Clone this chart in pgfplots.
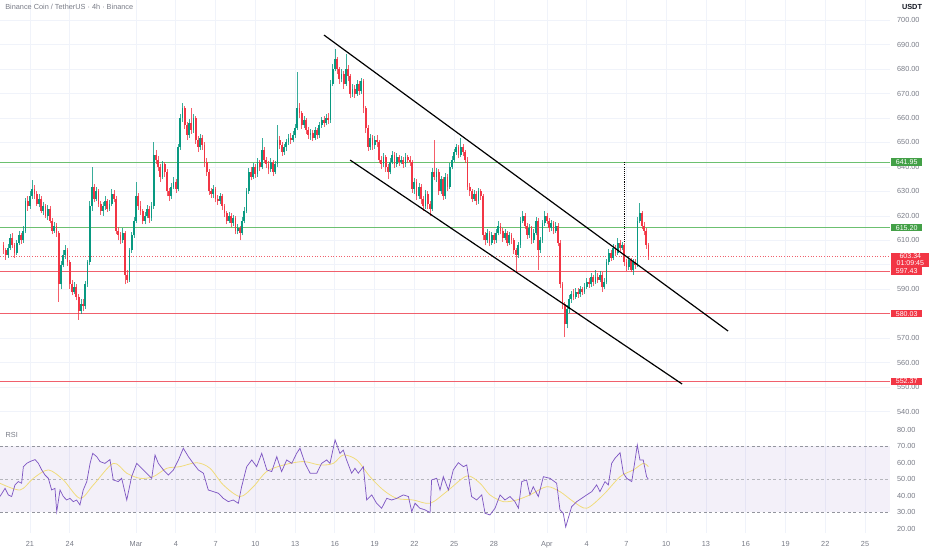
\documentclass[border=0pt]{standalone}
\usepackage{pgfplots}
\pgfplotsset{compat=1.18}
\usepackage{pgfplotstable}
\usepackage{fontspec}
\setmainfont{Liberation Sans}
\definecolor{tvgreen}{HTML}{089981}
\definecolor{tvred}{HTML}{F23645}
\definecolor{lvlgreen}{HTML}{6CC070}
\definecolor{lvlred}{HTML}{F0606C}
\definecolor{boxgreen}{HTML}{43A047}
\definecolor{gridc}{HTML}{F0F3FA}
\definecolor{txt}{HTML}{787B86}
\definecolor{dark}{HTML}{131722}
\definecolor{rsiline}{HTML}{7E57C2}
\definecolor{rsima}{HTML}{F0DC7C}

\pgfplotstableread{
i o h l c
0 608 609.5 604.5 606
1 606 607 602 604
2 604 608.5 603 607
3 607 612.5 606 611
4 611 613 607 608
5 608 609 603 605
6 605 610 604 609
7 609 614 608 612
8 612 613 608.5 610
9 610 616 609 614
10 614 627.5 613 626
11 626 628 622 624
12 624 630 623 628
13 628 634.6 627 631
14 631 632.5 627 629
15 629 630 624 625
16 625 629 623.5 627
17 627 628 621 622
18 622 625.5 620.5 624
19 624 625 619 620
20 620 624.5 618.5 623
21 623 624 617 618
22 618 619 612.5 614
23 614 617.5 613 616
24 616 617 611.5 613
25 613 614 585 592
26 592 601.5 590 600
27 600 606 599 604
28 604 608 602.5 606
29 606 607 599.5 601
30 601 602 590 592
31 592 594 587.5 589
32 589 593 588 591
33 591 592 585.5 587
34 587 588 577.5 581
35 581 586 580 584
36 584 586 581 583
37 583 593.5 582 592
38 592 602 591 601
39 601 626 600 624
40 624 640 622 632
41 632 633 625.5 627
42 627 632 626 630
43 630 631 623.5 625
44 625 626 620.5 622
45 622 625.5 620 624
46 624 628 622.5 626
47 626 627 621.5 623
48 623 626.5 622 625
49 625 631 624 629
50 629 630.5 625.5 627
51 627 628 612.5 614
52 614 615.5 610 612
53 612 613.5 608.5 610
54 610 615 609 613
55 613 614 592 596
56 596 598 592.5 594
57 594 607 593 606
58 606 613.5 605 612
59 612 619.5 611 618
60 618 634 617 628
61 628 629.5 622.5 624
62 624 626 620.5 622
63 622 623 616.5 618
64 618 621.5 616.5 620
65 620 624.5 619 623
66 623 624 617 619
67 619 625.5 618 624
68 624 650 623 645
69 645 647 641 643
70 643 644.5 638.5 640
71 640 641 634 636
72 636 642.5 635 641
73 641 642 636 638
74 638 639 628 630
75 630 631.5 626 628
76 628 633.5 627 632
77 632 636 631 634
78 634 635 629.5 631
79 631 649.5 630 648
80 648 661.5 647 660
81 660 666 658.5 664
82 664 665 655.5 657
83 657 658.5 651 653
84 653 659.5 652 658
85 658 664 653.5 655
86 655 661.5 654 660
87 660 661 649.5 651
88 651 652.5 646 648
89 648 653.5 647 652
90 652 653 647 649
91 649 650 640 642
92 642 643.5 636.5 638
93 638 639 628.5 630
94 630 631.5 627.5 629
95 629 632.5 627.5 631
96 631 632 625.5 627
97 627 628.5 624.5 626
98 626 629.5 625 628
99 628 629 622.5 624
100 624 625 619.5 621
101 621 622 616.5 618
102 618 621.5 617 620
103 620 621 615.5 617
104 617 620.5 616 619
105 619 620 612.5 614
106 614 616.5 612.5 615
107 615 616 610 613
108 613 619.5 612 618
109 618 623.5 617 622
110 622 631.5 621 630
111 630 639.5 629 638
112 638 640 634.5 636
113 636 641.5 635 640
114 640 641 635.5 637
115 637 643.5 636 642
116 642 643 638.5 640
117 640 652 639 647
118 647 648 641.5 643
119 643 644 639.5 641
120 641 642.5 637 639
121 639 643.5 638 642
122 642 643 636.5 638
123 638 642.5 637 641
124 641 657 640 651
125 651 652.5 647.5 649
126 649 650 644.5 646
127 646 649.5 645 648
128 648 651.5 646.5 650
129 650 653.5 649 652
130 652 654 649.5 651
131 651 654.5 650 653
132 653 657.5 652 656
133 656 678.8 655 664
134 664 666 660 662
135 662 663 655.5 657
136 657 661 656 659
137 659 660 653.5 655
138 655 656.5 651.5 653
139 653 655.5 651 654
140 654 655 650.5 652
141 652 656.5 651 655
142 655 656 651.5 653
143 653 658.5 652 657
144 657 660.5 656 659
145 659 661 656.5 658
146 658 661.5 657 660
147 660 662 657.5 659
148 659 675.5 658 674
149 674 682 673 680
150 680 688 679 684
151 684 685 678 680
152 680 681 674 676
153 676 680 674.5 678
154 678 679 672 674
155 674 686 673 680
156 680 681.5 675 677
157 677 678 668 670
158 670 674 668.5 672
159 672 673.5 668 670
160 670 675.5 669 674
161 674 675 669.5 671
162 671 676.5 670 675
163 675 676 662 664
164 664 665 654 656
165 656 657 646.5 648
166 648 653.5 647 652
167 652 653 647 649
168 649 652.5 647.5 651
169 651 653 648 650
170 650 651 641.5 643
171 643 644.5 639 641
172 641 645.5 640 644
173 644 645 638 640
174 640 641 635 638
175 638 643.5 637 642
176 642 646.5 641 645
177 645 646 639.5 641
178 641 645.5 640 644
179 644 645 640.5 642
180 642 644.5 641 643
181 643 644 639.5 641
182 641 645.5 640 644
183 644 645 641.5 643
184 643 644.5 640.5 642
185 642 643 629.5 631
186 631 635.5 629 634
187 634 635 626.5 628
188 628 633.5 627 632
189 632 633 625 627
190 627 628 622 624
191 624 630.5 623 629
192 629 630 623 625
193 625 626 620 623
194 623 639.5 622 638
195 638 651 634.5 636
196 636 639.5 634 638
197 638 639 628.5 630
198 630 636.5 629 635
199 635 636 626.5 628
200 628 637.5 627 636
201 636 637 630 632
202 632 641.5 631 640
203 640 644.5 639 643
204 643 647.5 642 646
205 646 649.5 645 648
206 648 649 643.5 645
207 645 651.8 644 648
208 648 649.5 644.5 646
209 646 647 641.5 643
210 643 644 630.5 632
211 632 633.5 628 630
212 630 631 625.5 627
213 627 630.5 626 629
214 629 630 624.5 626
215 626 631.5 625 630
216 630 631 626.5 628
217 628 629 610 612
218 612 613.5 608 610
219 610 614.5 609 613
220 613 614 607.5 609
221 609 613.5 608 612
222 612 613 608.5 610
223 610 614.5 609 613
224 613 618 612 616
225 616 617 612.5 614
226 614 615 609.5 611
227 611 614.5 610 613
228 613 614 607.5 609
229 609 613.5 608 612
230 612 613 608.5 610
231 610 611 604.5 606
232 606 607 597 604
233 604 609.5 603 608
234 608 619.5 607 618
235 618 622 617 620
236 620 621 614.5 616
237 616 617 610.5 612
238 612 616.5 611 615
239 615 616 608.5 610
240 610 614.5 609 613
241 613 619.5 612 618
242 618 619 598 606
243 606 611.5 605 610
244 610 618.5 609 617
245 617 622 616 620
246 620 621 616.5 618
247 618 619 613.5 615
248 615 618.5 614 617
249 617 618 612.5 614
250 614 617.5 613 616
251 616 617 607.5 609
252 609 610 590.5 592
253 592 593 582 584
254 584 585 570.5 576
255 576 583.5 574 582
256 582 587.5 580.5 586
257 586 589.5 584.5 588
258 588 590 585.5 587
259 587 590.5 586 589
260 589 590.5 586.5 588
261 588 591.5 587 590
262 590 591 587.5 589
263 589 592.5 588 591
264 591 594.5 590 593
265 593 594.5 590.5 592
266 592 596.5 591 595
267 595 596 591.5 593
268 593 598 592 595
269 595 596.5 592.5 594
270 594 597.5 593 596
271 596 597 589 591
272 591 594.5 590 593
273 593 602.5 592 601
274 601 606.5 600 605
275 605 606 601.5 603
276 603 608.5 602 607
277 607 608 603.5 605
278 605 611 604 609
279 609 610 605.5 607
280 607 609.5 606 608
281 608 609 599.5 601
282 601 602.5 597.5 599
283 599 603.5 598 602
284 602 603 597 598
285 598 602.5 596 601
286 601 602.5 598.5 600
287 600 619.5 599 618
288 618 625.3 617 621
289 621 622 614.5 616
290 616 617.5 612 614
291 614 615 606.5 608
292 608 609 602 603.34
}\candles

\tikzset{
  lbl/.style={anchor=west, inner sep=0pt, minimum width=23pt, minimum height=5.6pt,
    font=\fontsize{5.3}{5.6}\selectfont, text=white, align=center, xshift=0.8pt},
}

\begin{document}
\begin{tikzpicture}
\useasboundingbox (0pt,0pt) rectangle (699pt,412.5pt);
\begin{axis}[
  at={(0pt,96pt)}, anchor=south west, scale only axis,
  width=667.5pt, height=316.5pt,
  xmin=-1.58, xmax=401.3, ymin=535.8, ymax=708.2,
  axis line style={draw=none},
  xtick={12,30,60,78,96,114,132,150,168,186,204,222,246,264,282,300,318,336,354,372,390},
  xticklabels={},
  ytick={540,550,...,700},
  yticklabel pos=right,
  /pgf/number format/assume math mode=true,
  yticklabel style={font=\fontsize{5.5}{6}\selectfont, text=txt, anchor=west, xshift=1.8pt,
    /pgf/number format/fixed, /pgf/number format/fixed zerofill, /pgf/number format/precision=2},
  major tick length=0pt,
  grid=major, major grid style={gridc, line width=0.55pt},
  clip=false,
]
% levels
\addplot [lvlgreen, line width=0.65pt] coordinates {(-1.58,641.95) (401.3,641.95)};
\addplot [lvlgreen, line width=0.65pt] coordinates {(-1.58,615.20) (401.3,615.20)};
\addplot [lvlred, line width=0.65pt] coordinates {(-1.58,597.43) (401.3,597.43)};
\addplot [lvlred, line width=0.65pt] coordinates {(-1.58,580.03) (401.3,580.03)};
\addplot [lvlred, line width=0.65pt] coordinates {(-1.58,552.37) (401.3,552.37)};
\addplot [lvlred, line width=0.45pt, dash pattern=on 0.8pt off 1.2pt] coordinates {(-1.58,603.34) (401.3,603.34)};
% wicks
\addplot [draw=none, mark=none, restrict expr to domain={\thisrow{c}-\thisrow{o}}{0:1000},
  error bars/.cd, y dir=plus, y explicit, error mark=none,
  error bar style={draw=tvgreen, draw opacity=0.8, line width=0.45pt}]
  table [x=i, y=l, y error plus expr={\thisrow{h}-\thisrow{l}}] {\candles};
\addplot [draw=none, mark=none, restrict expr to domain={\thisrow{c}-\thisrow{o}}{-1000:-0.0001},
  error bars/.cd, y dir=plus, y explicit, error mark=none,
  error bar style={draw=tvred, draw opacity=0.8, line width=0.45pt}]
  table [x=i, y=l, y error plus expr={\thisrow{h}-\thisrow{l}}] {\candles};
% bodies
\addplot [draw=none, mark=none, restrict expr to domain={\thisrow{c}-\thisrow{o}}{0:1000},
  error bars/.cd, y dir=plus, y explicit, error mark=none,
  error bar style={draw=tvgreen, line width=1.35pt}]
  table [x=i, y=o, y error plus expr={\thisrow{c}-\thisrow{o}}] {\candles};
\addplot [draw=none, mark=none, restrict expr to domain={\thisrow{c}-\thisrow{o}}{-1000:-0.0001},
  error bars/.cd, y dir=minus, y explicit, error mark=none,
  error bar style={draw=tvred, line width=1.35pt}]
  table [x=i, y=o, y error minus expr={\thisrow{o}-\thisrow{c}}] {\candles};
% channel
\addplot [black, line width=0.9pt] coordinates {(145.1,693.87) (328.0,572.96)};
\addplot [black, line width=0.9pt] coordinates {(156.9,642.81) (307.2,551.31)};
\addplot [black, line width=0.6pt, dash pattern=on 0.8pt off 0.8pt] coordinates {(281,641.9) (281,609.5)};
\coordinate (L1) at (axis cs:401.3,641.95);
\coordinate (L2) at (axis cs:401.3,615.20);
\coordinate (L3) at (axis cs:401.3,603.34);
\coordinate (L4) at (axis cs:401.3,597.43);
\coordinate (L5) at (axis cs:401.3,580.03);
\coordinate (L6) at (axis cs:401.3,552.37);
\end{axis}

\begin{axis}[
  at={(0pt,12.75pt)}, anchor=south west, scale only axis,
  width=667.5pt, height=83.25pt,
  xmin=-1.58, xmax=401.3, ymin=17.3, ymax=84.9,
  axis line style={draw=none},
  xtick={12,30,60,78,96,114,132,150,168,186,204,222,246,264,282,300,318,336,354,372,390},
  xticklabels={21,24,Mar,4,7,10,13,16,19,22,25,28,Apr,4,7,10,13,16,19,22,25},
  xticklabel style={font=\fontsize{5.5}{6}\selectfont, text=txt, yshift=-2.5pt},
  ytick={20,30,...,80},
  yticklabel pos=right,
  /pgf/number format/assume math mode=true,
  yticklabel style={font=\fontsize{5.5}{6}\selectfont, text=txt, anchor=west, xshift=1.8pt,
    /pgf/number format/fixed, /pgf/number format/fixed zerofill, /pgf/number format/precision=2},
  major tick length=0pt,
  xmajorgrids, major grid style={gridc, line width=0.55pt},
]
\addplot [draw=none, fill=rsiline, fill opacity=0.09] coordinates {(-1.58,30) (401.3,30) (401.3,70) (-1.58,70)} -- cycle;
\addplot [txt!80, line width=0.45pt, dash pattern=on 2pt off 2pt] coordinates {(-1.58,70) (401.3,70)};
\addplot [txt!55, line width=0.45pt, dash pattern=on 2pt off 2pt] coordinates {(-1.58,50) (401.3,50)};
\addplot [txt!80, line width=0.45pt, dash pattern=on 2pt off 2pt] coordinates {(-1.58,30) (401.3,30)};
\addplot [rsima, line width=0.6pt, smooth] coordinates {
(-1.6,47.6) (7.5,43.5) (13.5,50.6) (20.3,55.7) (27.1,49.6) (34.6,38.4) (40.7,46.6) (49.7,59.7) (55.8,53.7) (61.8,50.6) (67.8,51.6) (73.9,56.7) (79.9,57.7) (87.5,60.1) (93.5,56.7) (99.5,46.6) (107.1,39.5) (113.1,45.5) (119.1,54.7) (126.7,58.7) (135.7,60.8) (143.3,58.7) (149.3,59.7) (153.8,64.8) (159.9,61.8) (165.9,51.6) (171.9,43.5) (178,38.4) (185.5,37.4) (193.1,35.4) (200.6,42.5) (209.7,52) (215.7,47.6) (220.2,40.5) (226.3,36.4) (232.3,37.4) (238.3,40.5) (245.9,45.5) (251.9,42.5) (258,36.4) (264,32.4) (271.5,40.5) (279.1,51.6) (285.1,55.7) (289.6,59.7) (291.9,57.7)};
\addplot [rsiline, line width=0.55pt] coordinates {
(-1.6,39.5) (0.7,44.5) (2.2,40.5) (3.7,39.5) (5.2,46.6) (6.7,48.6) (8.2,47.6) (9,57.7) (10.5,59.7) (12,60.8) (14.3,62) (15.8,59.7) (17.3,55.7) (18.8,52.6) (20.3,50.6) (21.8,43.5) (23.3,44.5) (24.1,30.3) (25.6,43.5) (27.1,39.5) (28.6,37.4) (30.1,38.4) (31.6,36.4) (33.1,37.4) (34.6,34.4) (36.1,43.5) (37.7,48.6) (39.2,59.7) (40.4,65.8) (42.2,63.8) (43.7,60.8) (45.9,59.7) (48.2,62) (49.7,49.6) (52,48.6) (53.5,50.6) (55.8,37.4) (58,51.6) (60.3,59.7) (62.6,56.7) (64.8,53.7) (67.1,50.6) (68.6,64.8) (70.1,59.7) (72.4,55.7) (74.6,52.6) (76.9,55.7) (79.2,61.8) (81.4,68.9) (83.7,63.8) (85.9,59.7) (88.2,55.7) (90.5,53.7) (92.7,43.5) (95,42.5) (97.3,41.5) (99.5,38.4) (101.8,36.4) (104,37.4) (106.3,35.4) (107.8,45.5) (110.1,57.7) (112.4,61.8) (114.6,57.7) (116.9,65.8) (119.2,55.7) (121.4,54.7) (123.7,63.8) (125.9,54.7) (128.2,61.8) (130.5,59.7) (132.7,65.8) (134.2,68.9) (136.5,59.7) (138.8,53.7) (141.8,53.7) (144,59.7) (146.3,61.8) (147.8,59.7) (150.1,74) (152.3,65.8) (153.8,67.8) (155.3,61.8) (157.6,53.7) (159.1,56.7) (160.6,53.7) (162.9,57.7) (164.4,37.4) (166.7,40.5) (168.9,35.4) (171.2,32.4) (173.5,38.4) (175.7,37.4) (178,38.4) (181,40.5) (183.3,39.5) (184.8,30.3) (186.3,35.4) (188.5,32.4) (190.8,31.4) (193.1,29.7) (193.8,49.6) (196.1,50.6) (197.6,43.5) (199.1,51.6) (201.4,43.5) (203.6,55.7) (205.9,60.1) (208.2,57.7) (209.7,58.7) (211.9,39.5) (214.2,37.4) (216.5,40.5) (218,29.3) (220.2,28.3) (222.5,32.4) (224.8,40.5) (227,37.4) (229.3,39.5) (231.5,36.4) (233.1,32.4) (234.6,48.6) (236.8,49.6) (238.3,40.5) (239.8,45.5) (242.1,39.5) (244.4,51.6) (247.4,50.6) (250.4,47.6) (251.9,31.4) (253.4,29.3) (254.5,21) (257.2,33.4) (259.5,36.4) (261.7,38.4) (264,40.5) (266.3,42.5) (268.5,46.6) (270,42.5) (272.3,48.6) (273.8,46.6) (275.3,59.7) (276.8,62.8) (279.1,66.2) (280.6,53.7) (282.1,50.6) (284.4,48.6) (285.9,61.8) (286.9,70.9) (288.1,61.8) (289.6,61.8) (291.1,51.6) (291.9,50)};
\end{axis}

% price labels on the scale
\node[lbl, fill=boxgreen] at (L1) {641.95};
\node[lbl, fill=boxgreen] at (L2) {615.20};
\node[lbl, fill=tvred, minimum width=28.5pt, minimum height=10pt, yshift=-2.4pt,
  font=\fontsize{5.3}{5.3}\selectfont] at (L3) {603.34\\01:09:45};
\node[lbl, fill=tvred] at (L4) {597.43};
\node[lbl, fill=tvred] at (L5) {580.03};
\node[lbl, fill=tvred] at (L6) {552.37};

% texts
\node[anchor=west, inner sep=0pt, font=\fontsize{5.5}{6}\selectfont, text=txt] at (3.75pt,407pt) {Binance Coin / TetherUS · 4h · Binance};
\node[inner sep=0pt, font=\fontsize{5.5}{6}\selectfont\bfseries, text=dark] at (684pt,407pt) {USDT};
\node[anchor=west, inner sep=0pt, font=\fontsize{5.5}{6}\selectfont, text=txt] at (4pt,86.25pt) {RSI};
\end{tikzpicture}
\end{document}
